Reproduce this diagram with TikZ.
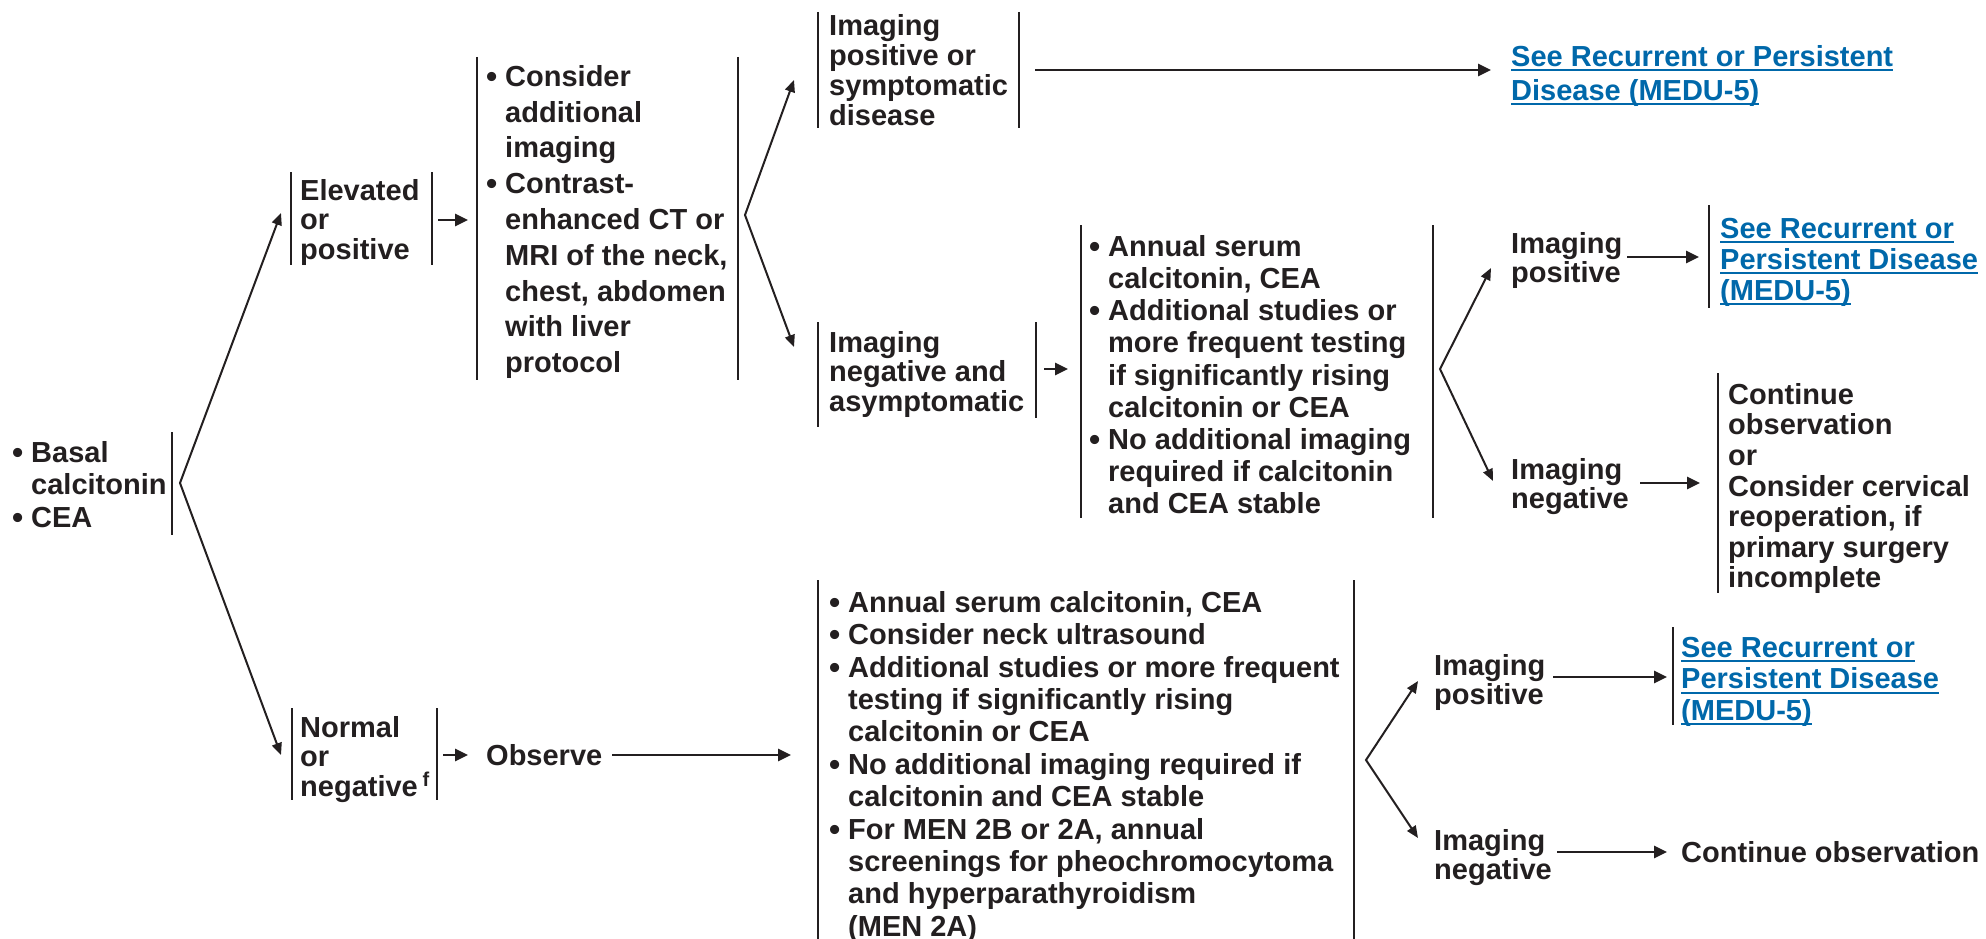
\documentclass[tikz,border=0pt]{standalone}
\usepackage{fontspec}
\usepackage{graphicx}
\setmainfont{Liberation Sans}
\usetikzlibrary{arrows.meta}
\definecolor{ink}{HTML}{231F20}
\definecolor{linkblue}{RGB}{0,104,170}
\newcommand\fs{\rule{0pt}{24pt}}
\newcommand\bu{\makebox[19pt][l]{\smash{\raisebox{-1.2pt}{\scalebox{1.1}{\textbullet}}}}}
\newcommand\ind{\hspace*{19pt}}
\newsavebox\lnkbox
\newcommand\lnk[1]{\sbox\lnkbox{#1}\rlap{\rule[-5pt]{\wd\lnkbox}{2.2pt}}\usebox\lnkbox}
\tikzset{
  tx/.style={anchor=north west, inner sep=0pt, align=left, text=ink, font=\fontsize{29}{#1}\selectfont\bfseries},
  tx/.default=29.5,
  lk/.style={tx=#1, text=linkblue},
  bar/.style={draw=ink, line width=2pt},
  arr/.style={draw=ink, line width=2.6pt, -{Triangle[length=13pt,width=12pt]}},
  fork/.style={draw=ink, line width=2pt, {Triangle[length=12pt,width=10pt]}-{Triangle[length=12pt,width=10pt]}},
}
\begin{document}
\begin{tikzpicture}[x=1pt,y=-1pt]
\useasboundingbox (0,0) rectangle (1986,939);

% text nodes (y = first baseline - 24)
\node[tx=32.5] (basal) at (12,438) {\fs\bu Basal\\\ind calcitonin\\\bu CEA};
\node[tx=29.5] (elev) at (300,176) {\fs Elevated\\or\\positive};
\node[tx=35.8] (cons) at (486,62) {\fs\bu Consider\\\ind additional\\\ind imaging\\\bu Contrast-\\\ind enhanced CT or\\\ind MRI of the neck,\\\ind chest, abdomen\\\ind with liver\\\ind protocol};
\node[tx=30] (ipos1) at (829,11) {\fs Imaging\\positive or\\symptomatic\\disease};
\node[lk=34] (link1) at (1511,42) {\fs\lnk{See Recurrent or Persistent}\\\lnk{Disease (MEDU-5)}};
\node[tx=29.5] (ineg1) at (829,328) {\fs Imaging\\negative and\\asymptomatic};
\node[tx=32.2] (annual) at (1089,232) {\fs\bu Annual serum\\\ind calcitonin, CEA\\\bu Additional studies or\\\ind more frequent testing\\\ind if significantly rising\\\ind calcitonin or CEA\\\bu No additional imaging\\\ind required if calcitonin\\\ind and CEA stable};
\node[tx=29] (ipos2) at (1511,229) {\fs Imaging\\positive};
\node[lk=31] (link2) at (1720,214) {\fs\lnk{See Recurrent or}\\\lnk{Persistent Disease}\\\lnk{(MEDU-5)}};
\node[tx=29] (ineg2) at (1511,455) {\fs Imaging\\negative};
\node[tx=30.6] (cont1) at (1728,380) {\fs Continue\\observation\\or\\Consider cervical\\reoperation, if\\primary surgery\\incomplete};
\node[tx=29.5] (norm) at (300,713) {\fs Normal\\or\\negative\,\raisebox{10pt}{\fontsize{20}{20}\selectfont f}};
\node[tx] (obs) at (486,741) {\fs Observe};
\node[tx=32.4] (big) at (829,588) {\fs\bu Annual serum calcitonin, CEA\\\bu Consider neck ultrasound\\\bu Additional studies or more frequent\\\ind testing if significantly rising\\\ind calcitonin or CEA\\\bu No additional imaging required if\\\ind calcitonin and CEA stable\\\bu For MEN 2B or 2A, annual\\\ind screenings for pheochromocytoma\\\ind and hyperparathyroidism\\\ind (MEN 2A)};
\node[tx=29] (ipos3) at (1434,651) {\fs Imaging\\positive};
\node[lk=31.5] (link3) at (1681,633) {\fs\lnk{See Recurrent or}\\\lnk{Persistent Disease}\\\lnk{(MEDU-5)}};
\node[tx=29] (ineg3) at (1434,826) {\fs Imaging\\negative};
\node[tx] (cont2) at (1681,838) {\fs Continue observation};

% bars
\draw[bar] (172,432) -- (172,535);
\draw[bar] (291,172) -- (291,265);
\draw[bar] (432,172) -- (432,265);
\draw[bar] (477,57) -- (477,380);
\draw[bar] (738,57) -- (738,380);
\draw[bar] (818,12) -- (818,128);
\draw[bar] (1019,12) -- (1019,128);
\draw[bar] (818,322) -- (818,427);
\draw[bar] (1036,322) -- (1036,418);
\draw[bar] (1081,225) -- (1081,518);
\draw[bar] (1433,225) -- (1433,518);
\draw[bar] (1709,205) -- (1709,308);
\draw[bar] (1718,373) -- (1718,593);
\draw[bar] (292,708) -- (292,800);
\draw[bar] (437,708) -- (437,800);
\draw[bar] (818,580) -- (818,939);
\draw[bar] (1354,580) -- (1354,939);
\draw[bar] (1673,627) -- (1673,725);

% connector coordinates
\coordinate (f1) at (180,483);
\coordinate (f1u) at (281,213);
\coordinate (f1d) at (281,755);
\coordinate (eR) at (438,220);
\coordinate (cL) at (468,220);
\coordinate (f2) at (745,215);
\coordinate (f2u) at (794,80);
\coordinate (f2d) at (794,347);
\coordinate (p1R) at (1035,70);
\coordinate (l1L) at (1491,70);
\coordinate (n1R) at (1044,369);
\coordinate (aL) at (1068,369);
\coordinate (f3) at (1440,369);
\coordinate (f3u) at (1491,268);
\coordinate (f3d) at (1493,481);
\coordinate (p2R) at (1627,257);
\coordinate (l2L) at (1699,257);
\coordinate (n2R) at (1640,483);
\coordinate (c1L) at (1700,483);
\coordinate (nR) at (443,755);
\coordinate (oL) at (468,755);
\coordinate (oR) at (612,755);
\coordinate (bL) at (791,755);
\coordinate (f4) at (1366,760);
\coordinate (f4u) at (1418,681);
\coordinate (f4d) at (1418,838);
\coordinate (p3R) at (1553,677);
\coordinate (l3L) at (1667,677);
\coordinate (n3R) at (1557,852);
\coordinate (c2L) at (1667,852);

% connectors
\draw[fork] (f1u) -- (f1) -- (f1d);
\draw[arr] (eR) -- (cL);
\draw[fork] (f2u) -- (f2) -- (f2d);
\draw[arr] (p1R) -- (l1L);
\draw[arr] (n1R) -- (aL);
\draw[fork] (f3u) -- (f3) -- (f3d);
\draw[arr] (p2R) -- (l2L);
\draw[arr] (n2R) -- (c1L);
\draw[arr] (nR) -- (oL);
\draw[arr] (oR) -- (bL);
\draw[fork] (f4u) -- (f4) -- (f4d);
\draw[arr] (p3R) -- (l3L);
\draw[arr] (n3R) -- (c2L);
\end{tikzpicture}
\end{document}
